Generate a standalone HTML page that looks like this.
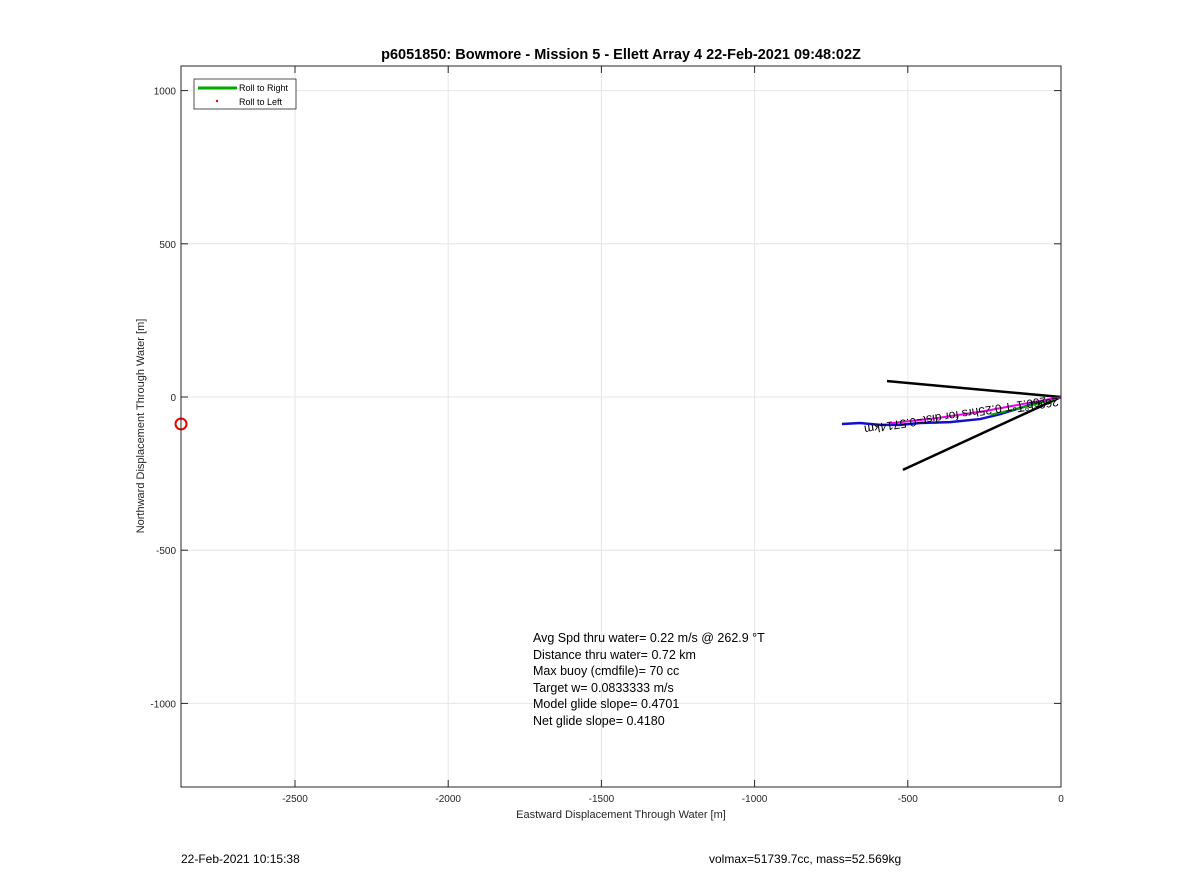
<!DOCTYPE html>
<html><head><meta charset="utf-8"><style>
body{margin:0;background:#fff;font-family:"Liberation Sans",Arial,sans-serif}
svg text{font-family:"Liberation Sans",Arial,sans-serif}
</style></head><body>
<svg id="chart" width="1200" height="885" xmlns="http://www.w3.org/2000/svg">
<rect width="1200" height="885" fill="#fff"/>
<g id="grid"></g>
<g id="marks"></g>
<rect x="181" y="66" width="880" height="721" fill="none" stroke="#262626" stroke-width="1"/>
<g id="ticks"></g>
<text x="621" y="59" text-anchor="middle" font-size="14.5" font-weight="bold" fill="#000">p6051850: Bowmore - Mission 5 - Ellett Array 4 22-Feb-2021 09:48:02Z</text>
<text x="621" y="818" text-anchor="middle" font-size="11" fill="#262626">Eastward Displacement Through Water [m]</text>
<text transform="translate(144,426) rotate(-90)" text-anchor="middle" font-size="11" fill="#262626">Northward Displacement Through Water [m]</text>
<g font-size="12.5" fill="#000">
<text x="533" y="642">Avg Spd thru water=  0.22 m/s @ 262.9 °T</text>
<text x="533" y="659">Distance thru water=  0.72 km</text>
<text x="533" y="675">Max buoy (cmdfile)= 70 cc</text>
<text x="533" y="692">Target w= 0.0833333 m/s</text>
<text x="533" y="708">Model glide slope= 0.4701</text>
<text x="533" y="725">Net glide slope= 0.4180</text>
</g>
<g>
<rect x="194" y="79" width="102" height="30" fill="#fff" stroke="#262626" stroke-width="0.8"/>
<line x1="198" y1="88" x2="237" y2="88" stroke="#00aa00" stroke-width="3"/>
<text x="239" y="91" font-size="9" fill="#000">Roll to Right</text>
<circle cx="217" cy="101" r="1.2" fill="#e00"/>
<text x="239" y="105" font-size="9" fill="#000">Roll to Left</text>
</g>
<text x="181" y="863" font-size="12" fill="#000">22-Feb-2021 10:15:38</text>
<text x="709" y="863" font-size="12" fill="#000">volmax=51739.7cc, mass=52.569kg</text>
</svg>
<script>
const xTicks=[-2500,-2000,-1500,-1000,-500,0];
const yTicks=[1000,500,0,-500,-1000];
const trackX=[-715,-656,-591,-525,-460,-362,-264,-199,-134,-69,0];
const trackY=[-88,-85,-91,-91,-85,-82,-72,-56,-36,-16,0];
const magentaX=[-560,-400,-250,-120,0];
const magentaY=[-86,-68,-46,-22,0];
const greenX=[-230,-150,-70,0];
const greenY=[-58,-40,-20,0];
const coneUpper=[-568,52];
const coneLower=[-516,-238];
const startPoint=[-2872,-88];
const NS="http://www.w3.org/2000/svg";
const sx=v=>1061+v*0.3064;
const sy=v=>397-v*0.3064;
function el(t,a,p){const e=document.createElementNS(NS,t);for(const k in a)e.setAttribute(k,a[k]);p.appendChild(e);return e;}
const grid=document.getElementById('grid'),ticks=document.getElementById('ticks'),marks=document.getElementById('marks');
xTicks.forEach(v=>{const x=sx(v);
 const g=el('line',{x1:x,x2:x,y1:66,y2:787,stroke:'#e6e6e6'},grid);
 el('line',{x1:x,x2:x,y1:787,y2:780,stroke:'#262626'},ticks);el('line',{x1:x,x2:x,y1:66,y2:73,stroke:'#262626'},ticks);
 const t=el('text',{x:x,y:802,'text-anchor':'middle','font-size':'10',fill:'#262626'},ticks);t.textContent=v;});
yTicks.forEach(v=>{const y=sy(v);
 const g=el('line',{x1:181,x2:1061,y1:y,y2:y,stroke:'#e6e6e6'},grid);
 el('line',{x1:181,x2:188,y1:y,y2:y,stroke:'#262626'},ticks);el('line',{x1:1061,x2:1054,y1:y,y2:y,stroke:'#262626'},ticks);
 const t=el('text',{x:176,y:y+4,'text-anchor':'end','font-size':'10',fill:'#262626'},ticks);t.textContent=v;});
function poly(xs,ys,c,w,name){const p=el('polyline',{points:xs.map((x,i)=>sx(x)+','+sy(ys[i])).join(' '),fill:'none',stroke:c,'stroke-width':w},marks);}
[coneUpper,coneLower].forEach((c,i)=>{const l=el('line',{x1:sx(c[0]),y1:sy(c[1]),x2:sx(0),y2:sy(0),stroke:'#000','stroke-width':2.5},marks);});
poly(trackX,trackY,'#1010cc',2.5,'track-blue');
poly(greenX,greenY,'#00aa00',2,'track-green');
poly(magentaX,magentaY,'#ee00ee',2,'track-magenta');
const c=el('circle',{cx:sx(startPoint[0]),cy:sy(startPoint[1]),r:5.5,fill:'none',stroke:'#e00','stroke-width':2},marks);

const lab=el('text',{transform:'translate('+sx(-50)+','+sy(0)+') rotate(171)','font-size':'12',fill:'#000'},marks);
lab.textContent='260.1°T  0.25hrs for dist=0.5714km';

const lab2=el('text',{transform:'translate('+sx(-10)+','+sy(-2)+') rotate(171)','font-size':'12',fill:'#000'},marks);
lab2.textContent='260.1°T';

</script>
</body></html>
